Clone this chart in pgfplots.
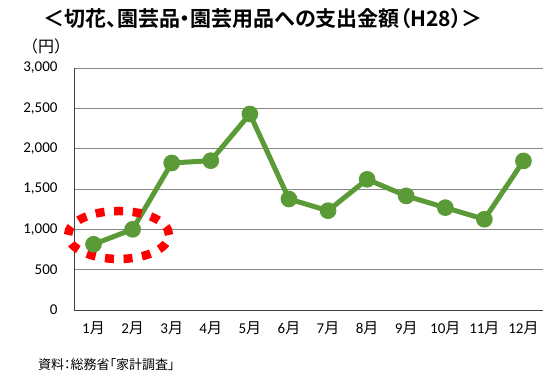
\documentclass[border=0pt]{standalone}
\usepackage{pgfplots}
\pgfplotsset{compat=1.18}
\usepackage{fontspec}
\setmainfont{Carlito}
\newfontfamily\cjk[RawFeature=+palt]{Noto Sans CJK JP}
\newfontfamily\cjkn{Noto Sans CJK JP}
\newfontfamily\cjkb[RawFeature=+palt]{Noto Sans CJK JP Bold}
\definecolor{lgreen}{RGB}{90,155,56}
\definecolor{gridgray}{RGB}{134,134,134}
\begin{document}
\begin{tikzpicture}
\path[use as bounding box] (0,0) rectangle (556bp,380bp);
\begin{axis}[
  at={(74bp,70bp)}, anchor=south west,
  scale only axis, width=469bp, height=242bp,
  xmin=0.5, xmax=12.5, ymin=0, ymax=3000,
  xtick={1,...,12},
  xticklabels={1{\cjk 月},2{\cjk 月},3{\cjk 月},4{\cjk 月},5{\cjk 月},6{\cjk 月},7{\cjk 月},8{\cjk 月},9{\cjk 月},10{\cjk 月},11{\cjk 月},12{\cjk 月}},
  ytick={0,500,...,3000},
  yticklabels={0,500,{1,000},{1,500},{2,000},{2,500},{3,000}},
  major tick length=0pt,
  ymajorgrids, grid style={gridgray, line width=0.9bp},
  axis x line*=bottom, axis y line*=left,
  axis line style={black!75, line width=0.9bp},
  separate axis lines,
  tick label style={font=\fontsize{15bp}{17bp}\selectfont},
  yticklabel style={xshift=-13bp},
  xticklabel style={yshift=-8bp},
  clip=false,
]
\addplot[lgreen, line width=5bp, mark=*, mark size=5.8bp, mark options={solid, draw=none, fill=lgreen}] coordinates {
(1,815) (2,1000) (3,1823) (4,1851) (5,2430) (6,1376) (7,1231) (8,1620) (9,1414) (10,1269) (11,1125) (12,1848)
};
\draw[red, line width=8.5bp, dash pattern=on 9bp off 9.6bp] (axis cs:1.64,930) ellipse [x radius=50.5bp, y radius=24bp];
\end{axis}
\node[font=\cjkb\fontsize{21bp}{24bp}\selectfont] at (263bp,361bp) {＜切花、園芸品・園芸用品への支出金額（H28）＞};
\node[font=\cjkn\fontsize{16bp}{18bp}\selectfont] at (46bp,334bp) {（円）};
\node[font=\cjk\fontsize{13bp}{15bp}\selectfont, anchor=west, inner sep=0pt] at (38bp,15bp) {資料：総務省「家計調査」};
\end{tikzpicture}
\end{document}
